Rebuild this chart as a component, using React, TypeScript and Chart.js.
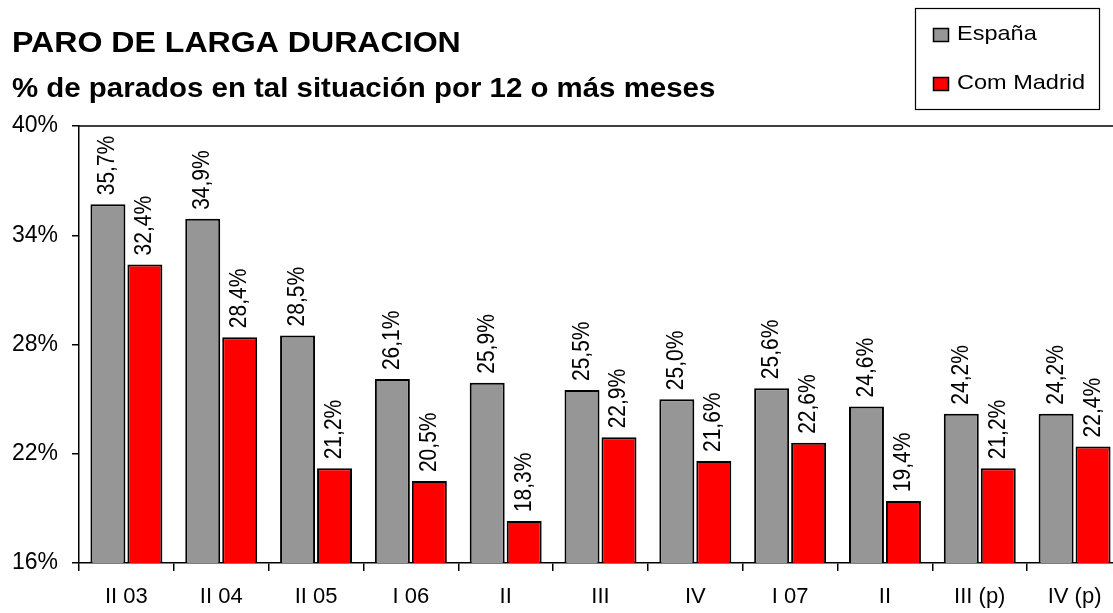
import React, { useEffect, useRef } from "react";
import { Chart, registerables } from "chart.js";

Chart.register(...registerables);

const TITLE = "PARO DE LARGA DURACION";
const SUBTITLE = "% de parados en tal situación por 12 o más meses";
const categories = ["II 03", "II 04", "II 05", "I 06", "II", "III", "IV", "I 07", "II", "III (p)", "IV (p)"];
const seriesNames = ["España", "Com Madrid"];
const espana = [35.7, 34.9, 28.5, 26.1, 25.9, 25.5, 25.0, 25.6, 24.6, 24.2, 24.2];
const madrid = [32.4, 28.4, 21.2, 20.5, 18.3, 22.9, 21.6, 22.6, 19.4, 21.2, 22.4];
const yMin = 16;
const yMax = 40;
const yStep = 6;

const FONT = '"Liberation Sans", Arial, sans-serif';
const COLORS = ["#969696", "#ff0000"];

function drawText(ctx: CanvasRenderingContext2D, text: string, x: number, y: number, font: string, sx: number) {
  ctx.save();
  ctx.translate(x, y);
  ctx.scale(sx, 1);
  ctx.font = font;
  ctx.fillStyle = "#000";
  ctx.textAlign = "left";
  ctx.textBaseline = "alphabetic";
  ctx.fillText(text, 0, 0);
  ctx.restore();
}

const decorPlugin = {
  id: "decor",
  afterDraw(chart: any) {
    const ctx: CanvasRenderingContext2D = chart.ctx;
    const area = chart.chartArea;
    // top border of plot area
    ctx.save();
    ctx.strokeStyle = "#000";
    ctx.lineWidth = 1.5;
    ctx.beginPath();
    ctx.moveTo(area.left, area.top);
    ctx.lineTo(area.right, area.top);
    ctx.stroke();
    ctx.restore();

    // titles
    drawText(ctx, TITLE, 12, 52, `bold 30px ${FONT}`, 1.07);
    drawText(ctx, SUBTITLE, 12, 97, `bold 27px ${FONT}`, 1.09);

    // legend box
    ctx.save();
    ctx.strokeStyle = "#000";
    ctx.lineWidth = 1.2;
    ctx.strokeRect(915.5, 8.5, 184, 101);
    const rows = [
      { y: 28, base: 40 },
      { y: 77, base: 89 },
    ];
    rows.forEach((r, i) => {
      ctx.fillStyle = COLORS[i];
      ctx.fillRect(933, r.y, 16, 14);
      ctx.lineWidth = 1.5;
      ctx.strokeStyle = "#000";
      ctx.strokeRect(933.5, r.y + 0.5, 15, 13);
      drawText(ctx, seriesNames[i], 957, r.base, `21px ${FONT}`, 1.12);
    });
    ctx.restore();

    // data labels
    chart.data.datasets.forEach((ds: any, di: number) => {
      const meta = chart.getDatasetMeta(di);
      meta.data.forEach((bar: any, i: number) => {
        const v = ds.data[i] as number;
        const label = v.toFixed(1).replace(".", ",") + "%";
        ctx.save();
        ctx.translate(bar.x, bar.y - 9);
        ctx.rotate(-Math.PI / 2);
        ctx.scale(1, 1.12);
        ctx.font = `21px ${FONT}`;
        ctx.fillStyle = "#000";
        ctx.textAlign = "left";
        ctx.textBaseline = "middle";
        ctx.fillText(label, 0, 0);
        ctx.restore();
      });
    });
  },
};

export default function App() {
  const ref = useRef<HTMLCanvasElement | null>(null);
  useEffect(() => {
    if (!ref.current) return;
    const chart = new Chart(ref.current, {
      type: "bar",
      data: {
        labels: categories,
        datasets: [
          {
            label: seriesNames[0],
            data: espana,
            backgroundColor: COLORS[0],
            borderColor: "#000",
            borderWidth: 2,
          },
          {
            label: seriesNames[1],
            data: madrid,
            backgroundColor: COLORS[1],
            borderColor: "#000",
            borderWidth: 2,
          },
        ],
      },
      options: {
        responsive: false,
        animation: false,
        layout: { padding: { top: 126, right: 3, left: 0, bottom: 0 } },
        datasets: { bar: { categoryPercentage: 0.78, barPercentage: 0.946 } },
        plugins: {
          legend: { display: false },
          title: { display: false },
          tooltip: { enabled: false },
        },
        scales: {
          x: {
            grid: {
              offset: true,
              drawOnChartArea: false,
              drawTicks: true,
              tickLength: 8,
              color: "#000",
              lineWidth: 1.5,
            },
            border: { color: "#000", width: 1.5 },
            ticks: {
              color: "#000",
              font: { family: FONT, size: 22 },
              padding: 13,
              maxRotation: 0,
              autoSkip: false,
            },
            afterFit: (s: any) => {
              s.height = 50;
            },
          },
          y: {
            min: yMin,
            max: yMax,
            ticks: {
              stepSize: yStep,
              color: "#000",
              font: { family: FONT, size: 23 },
              padding: 14,
              callback: (v: any) => `${v}%`,
            },
            grid: {
              drawOnChartArea: false,
              drawTicks: true,
              tickLength: 7,
              color: "#000",
              lineWidth: 1.5,
            },
            border: { color: "#000", width: 1.5 },
            afterFit: (s: any) => {
              s.width = 79;
            },
          },
        },
      },
      plugins: [decorPlugin],
    } as any);
    return () => chart.destroy();
  }, []);
  return (
    <div style={{ position: "fixed", left: 0, top: 0, width: 1113, height: 613, overflow: "hidden", background: "#fff" }}>
      <canvas ref={ref} width={1125} height={613} />
    </div>
  );
}
